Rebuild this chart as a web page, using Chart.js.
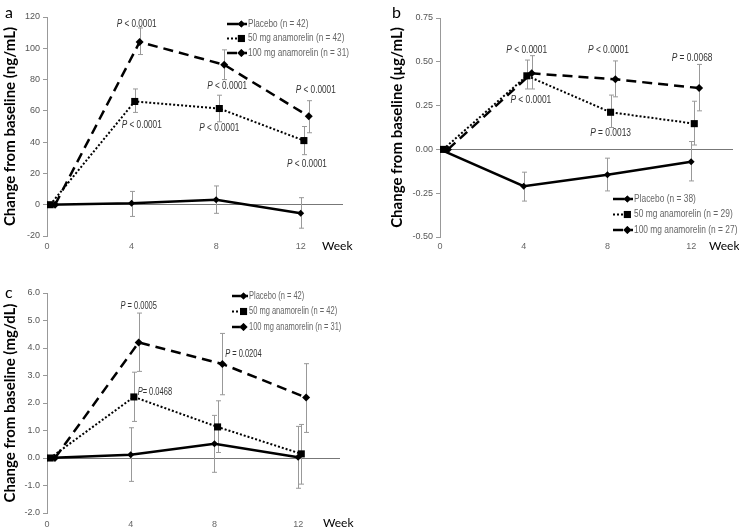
<!DOCTYPE html>
<html>
<head>
<meta charset="utf-8">
<script src="https://cdn.jsdelivr.net/npm/chart.js@4.4.1/dist/chart.umd.min.js"></script>
<style>
  body { margin: 0; background: #fff; width: 739px; height: 531px; position: relative; overflow: hidden; }
  .box { position: absolute; }
  .tag { position: absolute; font-family: Lato, sans-serif; font-size: 16px; color: #000; line-height: 1; }
  .week { position: absolute; font-family: Lato, sans-serif; font-size: 12px; color: #000; line-height: 1; }
</style>
</head>
<body>
<div class="box" style="left:0;top:250px;width:370px;height:281px"><canvas id="chartC"></canvas></div>
<div class="box" style="left:0;top:0;width:370px;height:256px"><canvas id="chartA"></canvas></div>
<div class="box" style="left:370px;top:0;width:369px;height:256px"><canvas id="chartB"></canvas></div>
<div class="tag" style="left:5px;top:4px">a</div>
<div class="tag" style="left:392px;top:4px">b</div>
<div class="tag" style="left:5px;top:284px">c</div>
<div class="week" style="left:322px;top:240px">Week</div>
<div class="week" style="left:709px;top:240px">Week</div>
<div class="week" style="left:323px;top:517px">Week</div>
<script>
const weeks = [0, 4, 8, 12];
const xTicks = [0, 4, 8, 12];
const names = ["Placebo", "50 mg anamorelin", "100 mg anamorelin"];

// a: IGF-1 (ng/mL)
const aN = [42, 42, 31];
const aPlacebo = [0, 1, 3.2, -5.5];
const aPlaceboHi = [0, 8.5, 12, 4.5];
const aPlaceboLo = [0, -7.5, -5.5, -15];
const a50 = [0, 66, 61.5, 41];
const a50Hi = [0, 74, 70, 50];
const a50Lo = [0, 59, 53, 32];
const a100 = [0, 104, 89.5, 56.5];
const a100Hi = [0, 113, 99, 66.5];
const a100Lo = [0, 96, 80, 46];

// b: IGFBP-3 (µg/mL)
const bN = [38, 29, 27];
const bPlacebo = [0, -0.21, -0.145, -0.07];
const bPlaceboHi = [0, -0.13, -0.05, 0.045];
const bPlaceboLo = [0, -0.295, -0.237, -0.18];
const b50 = [0, 0.42, 0.212, 0.147];
const b50Hi = [0, 0.51, 0.31, 0.275];
const b50Lo = [0, 0.345, 0.125, 0.025];
const b100 = [0, 0.434, 0.40, 0.35];
const b100Hi = [0, 0.535, 0.505, 0.485];
const b100Lo = [0, 0.345, 0.30, 0.22];

// c: (mg/dL)
const cN = [42, 42, 31];
const cPlacebo = [0, 0.12, 0.52, 0.03];
const cPlaceboHi = [0, 1.1, 1.55, 1.15];
const cPlaceboLo = [0, -0.85, -0.52, -1.1];
const c50 = [0, 2.22, 1.13, 0.15];
const c50Hi = [0, 3.12, 2.08, 1.22];
const c50Lo = [0, 1.33, 0.2, -0.95];
const c100 = [0, 4.2, 3.42, 2.2];
const c100Hi = [0, 5.27, 4.53, 3.43];
const c100Lo = [0, 3.15, 2.3, 0.93];

// p-value notes: [series, point, text]
const aNotes = [[2, 1, "P < 0.0001"], [2, 2, "P < 0.0001"], [2, 3, "P < 0.0001"],
                [1, 1, "P < 0.0001"], [1, 2, "P < 0.0001"], [1, 3, "P < 0.0001"]];
const bNotes = [[2, 1, "P < 0.0001"], [2, 2, "P < 0.0001"], [2, 3, "P = 0.0068"],
                [1, 1, "P < 0.0001"], [1, 2, "P = 0.0013"]];
const cNotes = [[2, 1, "P = 0.0005"], [2, 2, "P = 0.0204"], [1, 1, "P= 0.0468"]];

// line styles per series
const styles = [
  { shift: 0,    width: 2.5, dash: [],      point: "rectRot", radius: 3.5 },
  { shift: 0.15, width: 2,   dash: [2, 2],  point: "rect",    radius: 5 },
  { shift: 0.38, width: 2.5, dash: [10, 6], point: "rectRot", radius: 4 },
];

const tickFont = { family: '"Liberation Sans Narrow", "Liberation Sans", Arial', size: 9 };

function makeSet(k, vals, hi, lo, n) {
  const st = styles[k];
  return {
    label: names[k] + " (n = " + n + ")",
    data: weeks.map((w, i) => ({ x: w + st.shift, y: vals[i] })),
    hi: hi, lo: lo,
    borderColor: "#000", backgroundColor: "#000",
    borderWidth: st.width, borderDash: st.dash,
    pointStyle: st.point, pointRadius: st.radius,
    pointBorderWidth: 0, pointBackgroundColor: "#000",
    tension: 0,
  };
}

function condText(ctx, str, x, y, sx, italicFirst) {
  ctx.save();
  ctx.translate(x, y);
  ctx.scale(sx, 1);
  ctx.textBaseline = "middle";
  ctx.textAlign = "left";
  if (italicFirst) {
    ctx.font = 'italic 10px "Liberation Sans", Arial';
    const w1 = ctx.measureText(str[0]).width;
    ctx.font = '10px "Liberation Sans", Arial';
    const rest = str.slice(1);
    const w2 = ctx.measureText(rest).width;
    const x0 = -(w1 + w2) / 2;
    ctx.font = 'italic 10px "Liberation Sans", Arial';
    ctx.fillText(str[0], x0, 0);
    ctx.font = '10px "Liberation Sans", Arial';
    ctx.fillText(rest, x0 + w1, 0);
  } else {
    ctx.font = '10px "Liberation Sans", Arial';
    ctx.fillText(str, 0, 0);
  }
  ctx.restore();
}

const extras = {
  id: "extras",
  beforeDatasetsDraw(chart) {
    const { ctx, scales: { x, y } } = chart;
    ctx.save();
    ctx.strokeStyle = "#999";
    ctx.lineWidth = 1;
    chart.data.datasets.forEach(ds => {
      ds.data.forEach((p, i) => {
        if (ds.hi[i] === ds.lo[i]) return;
        const px = Math.round(x.getPixelForValue(p.x)) + 0.5;
        const top = y.getPixelForValue(ds.hi[i]);
        const bot = y.getPixelForValue(ds.lo[i]);
        ctx.beginPath();
        ctx.moveTo(px, top); ctx.lineTo(px, bot);
        ctx.moveTo(px - 2.5, top); ctx.lineTo(px + 2.5, top);
        ctx.moveTo(px - 2.5, bot); ctx.lineTo(px + 2.5, bot);
        ctx.stroke();
      });
    });
    ctx.restore();
  },
  afterDatasetsDraw(chart, args, opts) {
    const ctx = chart.ctx;
    ctx.save();
    ctx.fillStyle = "#333";
    opts.notes.forEach((nt, j) => {
      const el = chart.getDatasetMeta(nt[0]).data[nt[1]];
      const off = opts.offsets[j];
      condText(ctx, nt[2], el.x + off[0], el.y + off[1], opts.sx, true);
    });
    // legend
    const lg = opts.legend;
    chart.data.datasets.forEach((ds, k) => {
      const st = styles[k];
      const y = lg.y + k * lg.gap;
      ctx.strokeStyle = "#000";
      ctx.lineWidth = st.width;
      ctx.setLineDash(st.dash);
      ctx.beginPath();
      ctx.moveTo(lg.x, y); ctx.lineTo(lg.x + lg.len, y);
      ctx.stroke();
      ctx.setLineDash([]);
      Chart.helpers.drawPoint(ctx, { pointStyle: st.point, radius: st.radius, borderWidth: 0, rotation: 0 },
        lg.x + lg.len * 0.72, y);
      ctx.fillStyle = "#000";
      ctx.fill();
      ctx.fillStyle = "#666";
      condText(ctx, ds.label, lg.x + lg.len + 1, y, opts.sx, false);
    });
    ctx.restore();
  },
};

function makePanel(id, p) {
  new Chart(document.getElementById(id), {
    type: "line",
    data: { datasets: p.sets },
    plugins: [extras],
    options: {
      responsive: true,
      maintainAspectRatio: false,
      animation: false,
      layout: { padding: p.pad },
      plugins: {
        legend: { display: false },
        tooltip: { enabled: false },
        extras: { notes: p.notes, offsets: p.offsets, legend: p.legend, sx: p.sx },
      },
      scales: {
        x: {
          type: "linear", min: 0, max: 14,
          afterBuildTicks: s => { s.ticks = xTicks.map(v => ({ value: v })); },
          afterFit: s => { s.height = p.xh; },
          grid: { display: false, drawTicks: false },
          border: { display: false },
          ticks: { color: "#666", font: tickFont, padding: p.xpad, maxRotation: 0 },
        },
        y: {
          min: p.min, max: p.max,
          afterFit: s => { s.width = p.yw; },
          ticks: { stepSize: p.step, color: "#555", font: tickFont, padding: 3,
                   callback: v => v.toFixed(p.dec) },
          grid: {
            color: c => (c.tick && Math.abs(c.tick.value) < 1e-9 ? "#777" : "rgba(0,0,0,0)"),
            tickColor: "#999", tickLength: 4, lineWidth: 1,
          },
          border: { color: "#999", width: 1 },
          title: { display: true, text: p.title, color: "#000",
                   font: { family: "Lato", size: 15, weight: "bold" }, padding: { top: 1, bottom: 0 } },
        },
      },
    },
  });
}

makePanel("chartA", {
  sets: [makeSet(0, aPlacebo, aPlaceboHi, aPlaceboLo, aN[0]),
         makeSet(1, a50, a50Hi, a50Lo, aN[1]),
         makeSet(2, a100, a100Hi, a100Lo, aN[2])],
  min: -20, max: 120, step: 20, dec: 0,
  title: "Change from baseline (ng/mL)",
  pad: { left: 0, right: 27, top: 17, bottom: 0 }, yw: 47, xh: 20, xpad: 5,
  notes: aNotes,
  offsets: [[-3, -18], [3, 22], [7, -26], [7, 24], [0, 20], [3, 24]],
  legend: { x: 227, y: 24, gap: 14.5, len: 20 }, sx: 0.82,
});

makePanel("chartB", {
  sets: [makeSet(0, bPlacebo, bPlaceboHi, bPlaceboLo, bN[0]),
         makeSet(1, b50, b50Hi, b50Lo, bN[1]),
         makeSet(2, b100, b100Hi, b100Lo, bN[2])],
  min: -0.5, max: 0.75, step: 0.25, dec: 2,
  title: "Change from baseline (\u00b5g/mL)",
  pad: { left: 17, right: 6, top: 18, bottom: 0 }, yw: 53, xh: 19, xpad: 4,
  notes: bNotes,
  offsets: [[-5, -23], [-7, -29], [-7, -30], [4, 24], [0, 21]],
  legend: { x: 243, y: 199, gap: 15.5, len: 20 }, sx: 0.84,
});

makePanel("chartC", {
  sets: [makeSet(0, cPlacebo, cPlaceboHi, cPlaceboLo, cN[0]),
         makeSet(1, c50, c50Hi, c50Lo, cN[1]),
         makeSet(2, c100, c100Hi, c100Lo, cN[2])],
  min: -2, max: 6, step: 1, dec: 1,
  title: "Change from baseline (mg/dL)",
  pad: { left: 0, right: 30, top: 43, bottom: 0 }, yw: 47, xh: 18, xpad: 6,
  notes: cNotes,
  offsets: [[0, -36], [21, -10], [21, -5]],
  legend: { x: 232, y: 46, gap: 15.5, len: 16 }, sx: 0.75,
});
</script>
</body>
</html>
